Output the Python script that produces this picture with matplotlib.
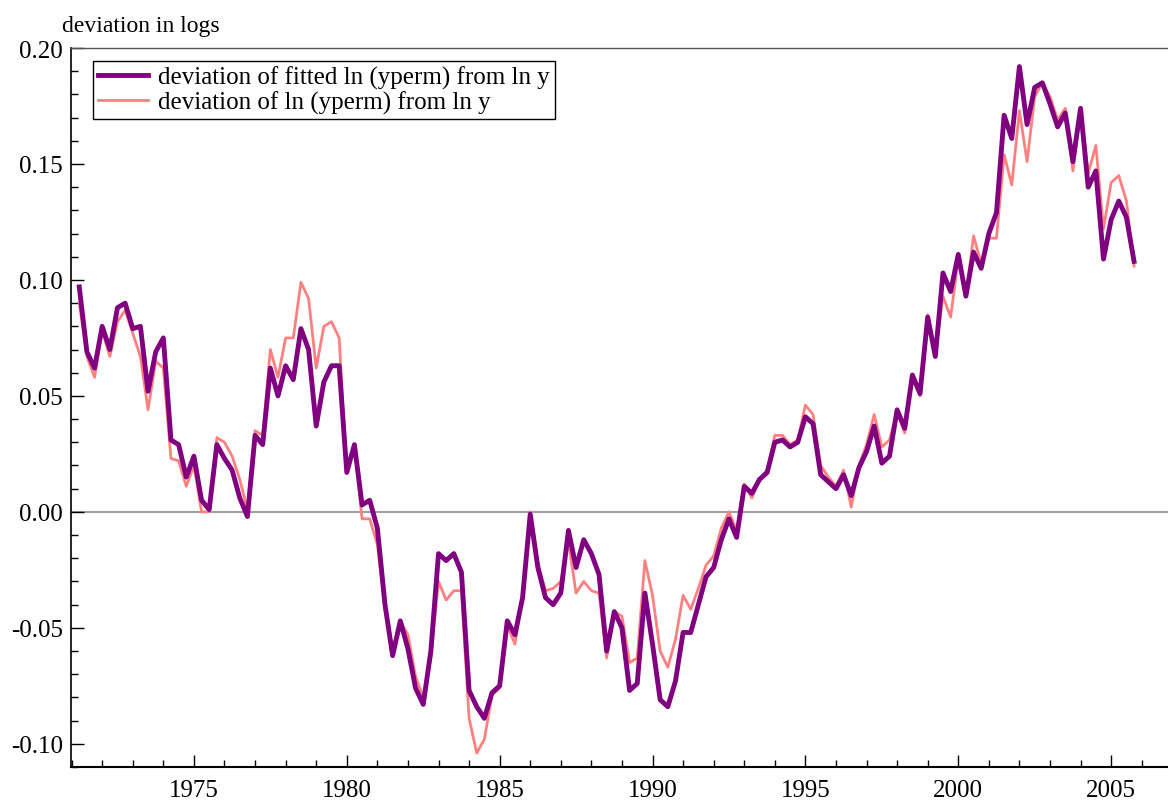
import numpy as np
import matplotlib
matplotlib.use("Agg")
import matplotlib.pyplot as plt
from matplotlib.ticker import MultipleLocator, FormatStrFormatter

# quarterly data, 1971Q2 - 2005Q4
start_year = 1971
start_quarter = 2

fitted = [
    0.097, 0.069, 0.062, 0.080, 0.070, 0.088, 0.090, 0.079, 0.080, 0.052,
    0.069, 0.075, 0.031, 0.029, 0.015, 0.024, 0.005, 0.001, 0.029, 0.023,
    0.018, 0.006, -0.002, 0.033, 0.029, 0.062, 0.050, 0.063, 0.057, 0.079,
    0.070, 0.037, 0.056, 0.063, 0.063, 0.017, 0.029, 0.003, 0.005, -0.007,
    -0.040, -0.062, -0.047, -0.059, -0.076, -0.083, -0.060, -0.018, -0.021, -0.018,
    -0.026, -0.077, -0.084, -0.089, -0.078, -0.075, -0.047, -0.053, -0.037, -0.001,
    -0.024, -0.037, -0.040, -0.035, -0.008, -0.024, -0.012, -0.018, -0.027, -0.060,
    -0.043, -0.050, -0.077, -0.074, -0.035, -0.057, -0.081, -0.084, -0.073, -0.052,
    -0.052, -0.040, -0.028, -0.024, -0.012, -0.003, -0.011, 0.011, 0.008, 0.014,
    0.017, 0.030, 0.031, 0.028, 0.030, 0.041, 0.038, 0.016, 0.013, 0.010,
    0.016, 0.007, 0.019, 0.026, 0.037, 0.021, 0.024, 0.044, 0.036, 0.059,
    0.051, 0.084, 0.067, 0.103, 0.095, 0.111, 0.093, 0.112, 0.105, 0.120,
    0.129, 0.171, 0.161, 0.192, 0.167, 0.183, 0.185, 0.176, 0.166, 0.172,
    0.151, 0.174, 0.140, 0.147, 0.109, 0.126, 0.134, 0.127, 0.108,
]

actual = [
    0.090, 0.067, 0.058, 0.078, 0.067, 0.082, 0.087, 0.077, 0.067, 0.044,
    0.065, 0.062, 0.023, 0.022, 0.011, 0.020, 0.000, 0.000, 0.032, 0.030,
    0.024, 0.014, 0.001, 0.035, 0.033, 0.070, 0.058, 0.075, 0.075, 0.099,
    0.092, 0.062, 0.080, 0.082, 0.075, 0.017, 0.029, -0.003, -0.003, -0.014,
    -0.042, -0.059, -0.047, -0.053, -0.071, -0.080, -0.063, -0.030, -0.038, -0.034,
    -0.034, -0.089, -0.104, -0.098, -0.079, -0.076, -0.049, -0.057, -0.036, 0.000,
    -0.022, -0.034, -0.033, -0.030, -0.013, -0.035, -0.030, -0.034, -0.035, -0.063,
    -0.043, -0.045, -0.065, -0.063, -0.021, -0.036, -0.060, -0.067, -0.055, -0.036,
    -0.042, -0.033, -0.023, -0.019, -0.007, 0.000, -0.008, 0.012, 0.006, 0.014,
    0.018, 0.033, 0.033, 0.029, 0.031, 0.046, 0.042, 0.020, 0.015, 0.011,
    0.018, 0.002, 0.020, 0.029, 0.042, 0.028, 0.031, 0.043, 0.034, 0.058,
    0.050, 0.085, 0.068, 0.093, 0.084, 0.109, 0.093, 0.119, 0.107, 0.118,
    0.118, 0.154, 0.141, 0.173, 0.151, 0.179, 0.185, 0.179, 0.169, 0.174,
    0.147, 0.174, 0.146, 0.158, 0.122, 0.142, 0.145, 0.134, 0.106,
]

labels = [
    "deviation of fitted ln (yperm) from ln y",
    "deviation of ln (yperm) from ln y",
]

t = start_year + (start_quarter - 1) / 4 + np.arange(len(fitted)) / 4

plt.rcParams["font.family"] = ["Liberation Serif", "DejaVu Serif"]
plt.rcParams["axes.unicode_minus"] = False
plt.rcParams["font.size"] = 18

fig = plt.figure(figsize=(11.68, 8.03), dpi=100)
ax = fig.add_axes([71 / 1168, 35 / 803, 1097 / 1168, 719 / 803])

ax.axhline(0, color="#a0a0a0", linewidth=1.5, zorder=1)
ax.plot(t, fitted, color="#800080", linewidth=3.5, label=labels[0], zorder=3)
ax.plot(t, actual, color="#ff8080", linewidth=2, label=labels[1], zorder=2)

ax.set_xlim(1970.98, 2006.86)
ax.set_ylim(-0.11, 0.20)

ax.xaxis.set_major_locator(MultipleLocator(5))
ax.xaxis.set_minor_locator(MultipleLocator(1))
ax.yaxis.set_major_locator(MultipleLocator(0.05))
ax.yaxis.set_minor_locator(MultipleLocator(0.01))
ax.yaxis.set_major_formatter(FormatStrFormatter("%.2f"))
ax.xaxis.set_major_formatter(FormatStrFormatter("%d"))

ax.tick_params(which="both", direction="in", top=False, right=False, labelsize=18)
ax.tick_params(which="major", length=9, width=1)
ax.tick_params(which="minor", length=5, width=1)
ax.tick_params(axis="y", pad=6)
ax.tick_params(axis="x", pad=9)

ax.spines["right"].set_visible(False)
ax.spines["top"].set_color("#555555")
ax.spines["top"].set_linewidth(1)
ax.spines["left"].set_linewidth(1.2)
ax.spines["bottom"].set_linewidth(1.5)

fig.text(62 / 1168, 1 - 32 / 803, "deviation in logs", fontsize=17, ha="left", va="baseline")

leg = ax.legend(
    loc="upper left",
    bbox_to_anchor=(93 / 1168, 1 - 62 / 803),
    bbox_transform=fig.transFigure,
    borderaxespad=0,
    fancybox=False,
    framealpha=1,
    edgecolor="black",
    fontsize=18,
    handlelength=2.0,
    handletextpad=0.4,
    labelspacing=0.05,
    borderpad=0.2,
)
leg.get_frame().set_linewidth(1)

fig.savefig("out.png", dpi=100)
